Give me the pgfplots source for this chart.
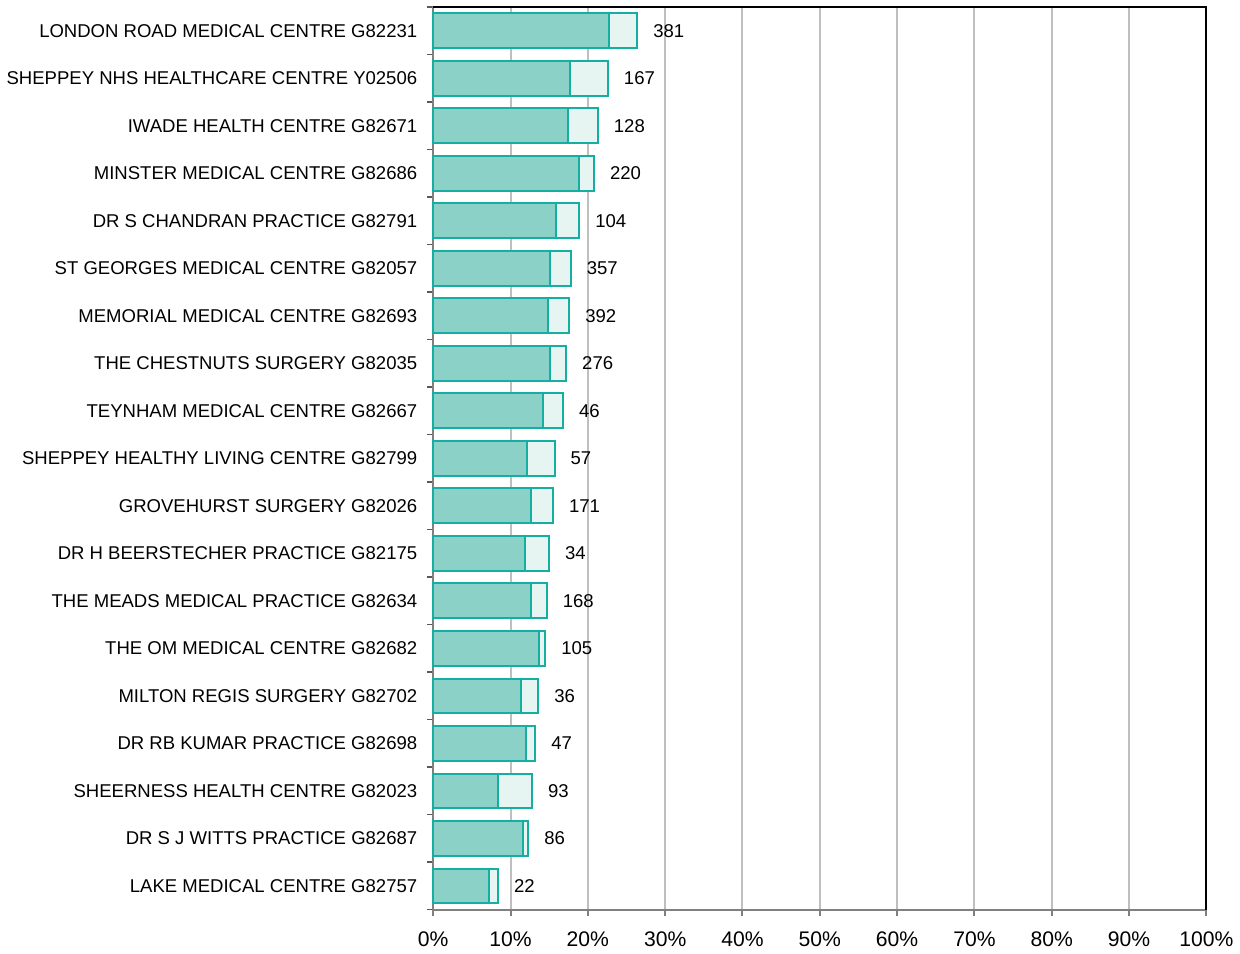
\documentclass[border=0pt]{standalone}
\usepackage{pgfplots}
\pgfplotsset{compat=1.18}
\usepackage{fontspec}
\setmainfont{Liberation Sans}
\definecolor{tealdark}{HTML}{8CD1C8}
\definecolor{teallight}{HTML}{E6F4F2}
\definecolor{tealedge}{HTML}{14AFA0}
\begin{document}
\begin{tikzpicture}
\begin{axis}[
  name=ax,
  width=388pt, height=453pt,
  scale only axis,
  xmin=0, xmax=100,
  ymin=-0.5, ymax=18.5,
  y dir=reverse,
  xtick={0,10,...,100},
  xticklabel={\pgfmathprintnumber{\tick}\%},
  ytick={0,...,18},
  yticklabels={
    LONDON ROAD MEDICAL CENTRE G82231,
    SHEPPEY NHS HEALTHCARE CENTRE Y02506,
    IWADE HEALTH CENTRE G82671,
    MINSTER MEDICAL CENTRE G82686,
    DR S CHANDRAN PRACTICE G82791,
    ST GEORGES MEDICAL CENTRE G82057,
    MEMORIAL MEDICAL CENTRE G82693,
    THE CHESTNUTS SURGERY G82035,
    TEYNHAM MEDICAL CENTRE G82667,
    SHEPPEY HEALTHY LIVING CENTRE G82799,
    GROVEHURST SURGERY G82026,
    DR H BEERSTECHER PRACTICE G82175,
    THE MEADS MEDICAL PRACTICE G82634,
    THE OM MEDICAL CENTRE G82682,
    MILTON REGIS SURGERY G82702,
    DR RB KUMAR PRACTICE G82698,
    SHEERNESS HEALTH CENTRE G82023,
    DR S J WITTS PRACTICE G82687,
    LAKE MEDICAL CENTRE G82757},
  minor ytick={-0.5,0.5,...,18.5},
  major y tick style={draw=none},
  minor y tick style={gray!70!black, line width=0.8pt},
  minor tick length=3pt,
  major tick length=3pt,
  tick align=outside,
  xtick pos=bottom, ytick pos=left,
  x tick style={gray, line width=1pt},
  xmajorgrids,
  grid style={gray!50, line width=1pt},
  axis line style={gray, line width=1pt},
  yticklabel style={font=\fontsize{9.3}{11}\selectfont, black, xshift=-1.5pt},
  xticklabel style={font=\fontsize{10.6}{12}\selectfont, black, yshift=-4.5pt},
  /pgf/number format/assume math mode=true,
  clip=false,
]
% totals (light part shows beyond the dark part)
\addplot[xbar, bar width=0.73, bar shift=0pt, fill=teallight, draw=tealedge, line width=1pt] coordinates {
  (26.4,0) (22.6,1) (21.3,2) (20.8,3) (18.9,4) (17.8,5) (17.6,6)
  (17.2,7) (16.8,8) (15.7,9) (15.5,10) (15.0,11) (14.7,12) (14.5,13)
  (13.6,14) (13.2,15) (12.8,16) (12.3,17) (8.4,18)};
% dark part
\addplot[xbar, bar width=0.73, bar shift=0pt, fill=tealdark, draw=tealedge, line width=1pt] coordinates {
  (22.8,0) (17.7,1) (17.4,2) (18.9,3) (15.9,4) (15.1,5) (14.9,6)
  (15.1,7) (14.2,8) (12.1,9) (12.7,10) (11.9,11) (12.7,12) (13.7,13)
  (11.3,14) (12.0,15) (8.4,16) (11.6,17) (7.2,18)};
% counts
\addplot[draw=none, mark=none,
  nodes near coords, point meta=explicit symbolic,
  every node near coord/.style={anchor=west, xshift=4.5pt, black,
    font=\fontsize{9.3}{11}\selectfont}] coordinates {
  (26.4,0)[381] (22.6,1)[167] (21.3,2)[128] (20.8,3)[220] (18.9,4)[104]
  (17.8,5)[357] (17.6,6)[392] (17.2,7)[276] (16.8,8)[46] (15.7,9)[57]
  (15.5,10)[171] (15.0,11)[34] (14.7,12)[168] (14.5,13)[105] (13.6,14)[36]
  (13.2,15)[47] (12.8,16)[93] (12.3,17)[86] (8.4,18)[22]};
\end{axis}
\draw[black, line width=1pt] (ax.north west) -- (ax.north east) -- (ax.south east);
\path ([yshift=3.5pt]ax.north east);
\end{tikzpicture}
\end{document}
